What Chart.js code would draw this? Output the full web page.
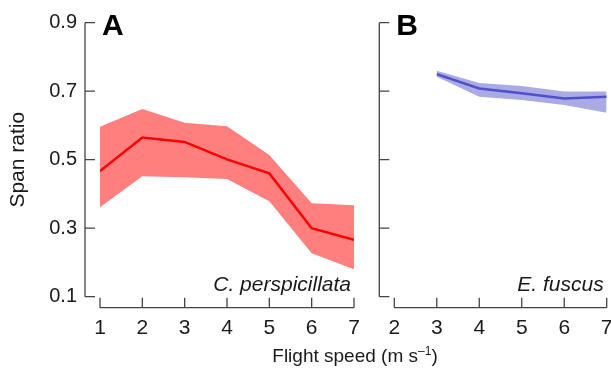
<!DOCTYPE html>
<html>
<head>
<meta charset="utf-8">
<script src="https://cdn.jsdelivr.net/npm/chart.js@4/dist/chart.umd.min.js"></script>
<style>
  html, body { margin: 0; padding: 0; background: #fff; }
  #wrap { position: relative; width: 611px; height: 369px; font-family: "Liberation Sans", Arial, sans-serif; color: #1a1a1a; }
  #wrap canvas { position: absolute; top: 0; }
  #xtitle { position: absolute; left: 0; width: 710px; top: 344px; text-align: center; font-size: 19px; line-height: 24px; }
  #xtitle sup { font-size: 12px; line-height: 0; vertical-align: 7px; }
</style>
</head>
<body>
<div id="wrap">
  <canvas id="chart-a" width="370" height="369" style="left:0;width:370px;height:369px"></canvas>
  <canvas id="chart-b" width="241" height="369" style="left:370px;width:241px;height:369px"></canvas>
  <div id="xtitle">Flight speed (m s<sup>–1</sup>)</div>
</div>
<script>
// ---- data ----
const yTicks = [0.1, 0.3, 0.5, 0.7, 0.9];

// A: C. perspicillata
const speedA = [1, 2, 3, 4, 5, 6, 7];
const meanA  = [0.467, 0.565, 0.552, 0.501, 0.460, 0.300, 0.266];
const upperA = [0.596, 0.648, 0.608, 0.598, 0.514, 0.373, 0.367];
const lowerA = [0.361, 0.452, 0.449, 0.444, 0.379, 0.227, 0.180];

// B: E. fuscus
const speedB = [3, 4, 5, 6, 7];
const meanB  = [0.750, 0.708, 0.694, 0.679, 0.684];
const upperB = [0.760, 0.724, 0.715, 0.699, 0.699];
const lowerB = [0.742, 0.684, 0.674, 0.660, 0.637];

const AXIS = '#444';
const TEXT = '#1a1a1a';
const FONT = '"Liberation Sans", Arial, sans-serif';

const pts = (xs, ys) => xs.map((x, i) => ({ x, y: ys[i] }));

// draws the offset (detached) axes with inward ticks, plus panel letter and species name
function axesPlugin(letter, species, xTicks) {
  return {
    id: 'axes-' + letter,
    afterDraw(chart) {
      const { ctx, chartArea, scales: { x, y } } = chart;
      const ax = chartArea.left - 15;
      const ay = chartArea.bottom + 11;
      ctx.save();
      ctx.strokeStyle = AXIS;
      ctx.lineWidth = 1.3;
      ctx.beginPath();
      ctx.moveTo(ax, y.getPixelForValue(0.9));
      ctx.lineTo(ax, y.getPixelForValue(0.1));
      yTicks.forEach(v => {
        const py = y.getPixelForValue(v);
        ctx.moveTo(ax, py); ctx.lineTo(ax + 10, py);
      });
      ctx.moveTo(x.getPixelForValue(xTicks[0]), ay);
      ctx.lineTo(x.getPixelForValue(xTicks[xTicks.length - 1]), ay);
      xTicks.forEach(v => {
        const px = x.getPixelForValue(v);
        ctx.moveTo(px, ay); ctx.lineTo(px, ay - 10);
      });
      ctx.stroke();

      ctx.fillStyle = '#000';
      ctx.font = 'bold 30px ' + FONT;
      ctx.textAlign = 'left';
      ctx.textBaseline = 'alphabetic';
      ctx.fillText(letter, chartArea.left + 2, chartArea.top + 12);

      ctx.fillStyle = TEXT;
      ctx.font = 'italic 21px ' + FONT;
      ctx.textAlign = 'right';
      ctx.fillText(species, chartArea.right - 3, chartArea.bottom - 6);
      ctx.restore();
    }
  };
}

function makeChart(id, o) {
  return new Chart(document.getElementById(id), {
    type: 'line',
    data: {
      datasets: [
        { data: pts(o.speed, o.mean), borderColor: o.line, borderWidth: 2.5, pointRadius: 0, fill: false, tension: 0 },
        { data: pts(o.speed, o.upper), borderWidth: 0, pointRadius: 0, backgroundColor: o.band, fill: '+1', tension: 0 },
        { data: pts(o.speed, o.lower), borderWidth: 0, pointRadius: 0, backgroundColor: o.band, fill: false, tension: 0 }
      ]
    },
    options: {
      responsive: false, animation: false,
      layout: { padding: { top: 22.7, right: o.padRight, bottom: 0, left: 0 } },
      plugins: { legend: { display: false }, tooltip: { enabled: false } },
      scales: {
        x: {
          type: 'linear', min: o.xTicks[0], max: o.xTicks[o.xTicks.length - 1],
          afterFit: s => { s.height = 72.3; s.paddingLeft = 0; s.paddingRight = 0; },
          afterBuildTicks: s => { s.ticks = o.xTicks.map(v => ({ value: v })); },
          grid: { display: false, drawTicks: false, tickLength: 0 }, border: { display: false },
          ticks: { padding: 19, color: TEXT, font: { family: FONT, size: 21 } }
        },
        y: {
          min: 0.1, max: 0.9,
          afterFit: s => { s.width = o.yWidth; s.paddingTop = 0; s.paddingBottom = 0; },
          afterBuildTicks: s => { s.ticks = yTicks.map(v => ({ value: v })); },
          grid: { display: false, drawTicks: false, tickLength: 0 }, border: { display: false },
          title: { display: o.yTitle, text: 'Span ratio', color: TEXT, font: { family: FONT, size: 21 }, padding: { top: 6, bottom: 0 } },
          ticks: { display: o.yLabels, padding: 23, color: TEXT, font: { family: FONT, size: 20 }, callback: v => v.toFixed(1) }
        }
      }
    },
    plugins: [axesPlugin(o.letter, o.species, o.xTicks)]
  });
}

makeChart('chart-a', {
  speed: speedA, mean: meanA, upper: upperA, lower: lowerA,
  line: '#ff0000', band: 'rgba(255,0,0,0.5)',
  xTicks: [1, 2, 3, 4, 5, 6, 7], yWidth: 100, padRight: 16,
  yTitle: true, yLabels: true, letter: 'A', species: 'C. perspicillata'
});

makeChart('chart-b', {
  speed: speedB, mean: meanB, upper: upperB, lower: lowerB,
  line: '#5050c8', band: 'rgba(85,85,204,0.5)',
  xTicks: [2, 3, 4, 5, 6, 7], yWidth: 24.3, padRight: 4.3,
  yTitle: false, yLabels: false, letter: 'B', species: 'E. fuscus'
});
</script>
</body>
</html>
